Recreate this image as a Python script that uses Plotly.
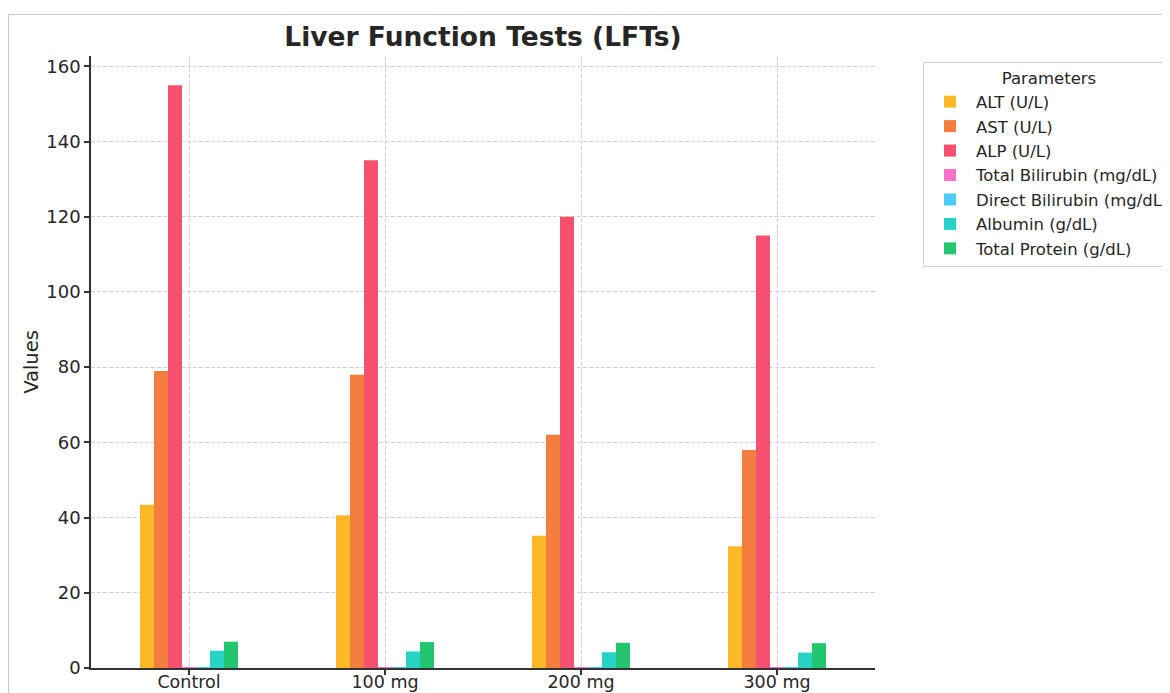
import plotly.graph_objects as go

categories = ["Control", "100 mg", "200 mg", "300 mg"]
series_names = ["ALT (U/L)", "AST (U/L)", "ALP (U/L)", "Total Bilirubin (mg/dL)",
                "Direct Bilirubin (mg/dL)", "Albumin (g/dL)", "Total Protein (g/dL)"]
alt = [43.4, 40.6, 35.2, 32.4]
ast = [79, 78, 62, 58]
alp = [155, 135, 120, 115]
total_bilirubin = [0.2, 0.2, 0.2, 0.2]
direct_bilirubin = [0.1, 0.1, 0.1, 0.1]
albumin = [4.6, 4.4, 4.2, 4.1]
total_protein = [7.0, 6.9, 6.7, 6.6]
colors = ["#FDB827", "#F47E3E", "#F5506E", "#F771C9", "#4DC9F6", "#27D3C7", "#24C56F"]

values = [alt, ast, alp, total_bilirubin, direct_bilirubin, albumin, total_protein]

FONT = "DejaVu Sans"
fig = go.Figure()
for name, vals, col in zip(series_names, values, colors):
    fig.add_trace(go.Bar(x=categories, y=vals, name=name, marker_color=col,
                         marker_line_width=0))

# page has an 8px body margin; work in page pixels and subtract it
OFF = 8
W, H = 1170 - OFF, 693 - OFF
L, T = 91 - OFF, 56 - OFF
Rx, By = 875 - OFF, 668 - OFF
R, B = W - Rx, H - By
pw, ph = Rx - L, By - T

def px2paper_x(px):
    return (px - OFF - L) / pw

def px2paper_y(py):
    return (By - (py - OFF)) / ph

fig.update_layout(
    width=W, height=H,
    margin=dict(l=L, r=R, t=T, b=B, autoexpand=False),
    paper_bgcolor="white", plot_bgcolor="white",
    barmode="group", bargap=0.5, bargroupgap=0,
    font=dict(family=FONT, color="#262626"),
    title=dict(text="<b>Liver Function Tests (LFTs)</b>", x=px2paper_x(483), xref="paper",
               xanchor="center", y=1 - (37 - OFF) / H, yanchor="middle",
               font=dict(size=26.5, family=FONT, color="#262626")),
    legend=dict(title=dict(text="Parameters", side="top center", font=dict(size=16.5)),
                font=dict(size=16.5, family=FONT), x=px2paper_x(923), y=px2paper_y(62),
                xanchor="left", yanchor="top", bordercolor="#d0d0d0", borderwidth=1,
                bgcolor="white", itemwidth=42, tracegroupgap=0),
    xaxis=dict(range=[-0.5, 3.5], showgrid=True, gridcolor="#d0d0d0", griddash="4px,2px",
               gridwidth=1, showline=True, linecolor="#333333", linewidth=1.6,
               ticks="outside", ticklen=5, tickcolor="#333333", tickwidth=1.5,
               ticklabelstandoff=-8,
               tickfont=dict(size=17.5, family=FONT, color="#262626"), zeroline=False,
               automargin=False),
    yaxis=dict(range=[0, 162.75], showgrid=True, gridcolor="#d0d0d0", griddash="4px,2px",
               gridwidth=1, showline=True, linecolor="#333333", linewidth=1.6,
               ticks="outside", ticklen=5, tickcolor="#333333", tickwidth=1.5,
               tickvals=[0, 20, 40, 60, 80, 100, 120, 140, 160],
               tickfont=dict(size=18, family=FONT, color="#262626"), zeroline=False,
               automargin=False,
               title=dict(text="Values", font=dict(size=19.5, family=FONT, color="#262626"),
                          standoff=2)),
    shapes=[dict(type="rect", xref="paper", yref="paper",
                 x0=px2paper_x(8.5), x1=px2paper_x(1190), y0=px2paper_y(720),
                 y1=px2paper_y(14.5),
                 line=dict(color="#c8c8c8", width=1), fillcolor="rgba(0,0,0,0)", layer="below")],
)

fig.write_html("out.html")
